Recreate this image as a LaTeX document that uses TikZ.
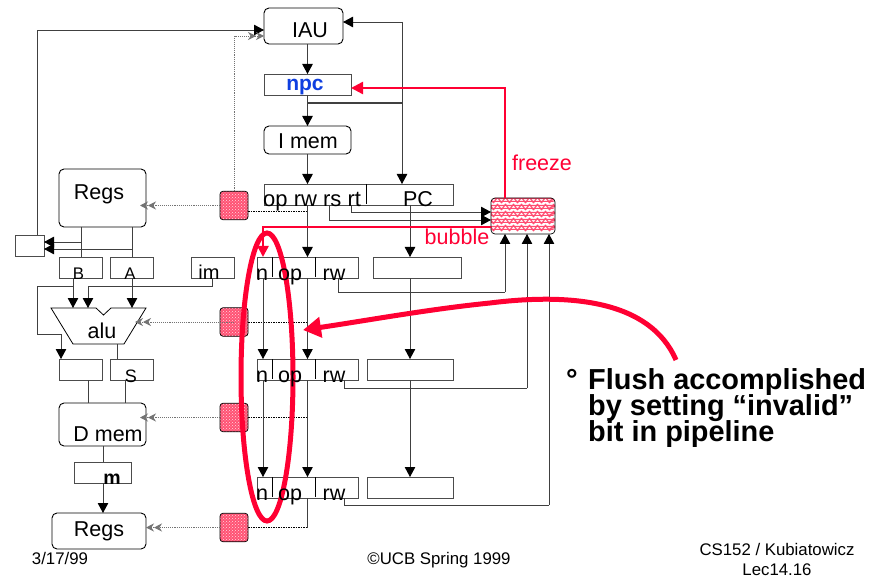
\documentclass[tikz,border=0pt]{standalone}
\usepackage{fontspec}
\setmainfont{Liberation Sans}
\usetikzlibrary{arrows.meta,patterns,decorations.pathmorphing}
\definecolor{flushred}{HTML}{FF0033}
\definecolor{npcblue}{HTML}{0F3FE0}
\tikzset{
    box/.style={draw=black!70,line width=0.9pt,fill=white,anchor=north west,inner sep=0pt,outer sep=0pt},
    rbox/.style={box,draw=black,rounded corners=5pt},
    stall/.style={draw=black,line width=0.7pt,rounded corners=3pt,minimum width=28pt,minimum height=28.5pt,inner sep=0pt,outer sep=0pt,
        preaction={fill=flushred!68},pattern=crosshatch dots,pattern color=white!85!flushred},
    wire/.style={black!75,line width=0.9pt},
    ar/.style={wire,-{Triangle[length=10pt,width=10.5pt,color=black]}},
    gar/.style={black!55,line width=0.9pt,densely dotted,-{Stealth[length=8pt,width=8pt]Stealth[length=8pt,width=8pt]}},
    dot/.style={black,line width=1pt,dash pattern=on 1.5pt off 1pt},
    lab/.style={font=\fontsize{21.5}{21.5}\selectfont,inner sep=0pt},
    small/.style={font=\fontsize{16.8}{16.8}\selectfont,inner sep=0pt},
    notel/.style={anchor=base west,inner sep=0pt,font=\fontsize{28.9}{26}\selectfont\bfseries},
    redwire/.style={flushred,line width=2.4pt},
}
\begin{document}
\begin{tikzpicture}[x=1pt,y=-1pt]
    \useasboundingbox (0,0) rectangle (888,577);

    % wires of the left side and the bus, drawn first so boxes sit over them
    \coordinate (top) at (402,22);
    \coordinate (busA) at (307.5,103);
    \coordinate (busB) at (402,103);

    % fetch
    \node[rbox,minimum width=79pt,minimum height=36pt] (iau) at (264,8) {};
    \node[box,minimum width=87pt,minimum height=21pt] (npc) at (264,74) {};
    \node[rbox,minimum width=87pt,minimum height=28pt] (imem) at (264,126) {};
    \node[box,minimum width=189pt,minimum height=21pt] (ir) at (264,184) {};
    \node[rbox,minimum width=87pt,minimum height=58pt] (regs) at (59,169) {};
    \node[box,minimum width=29pt,minimum height=21pt] (sel) at (15,235) {};
    \node[box,minimum width=43pt,minimum height=21pt] (b) at (59,257) {};
    \node[box,minimum width=43pt,minimum height=21pt] (a) at (110,257) {};
    \node[box,minimum width=43pt,minimum height=21pt] (im) at (191,257) {};
    \node[box,minimum width=43pt,minimum height=21pt] (res) at (59,359) {};
    \node[box,minimum width=43pt,minimum height=21pt] (s) at (110,359) {};
    \node[rbox,minimum width=87pt,minimum height=43pt] (dmem) at (59,403) {};
    \node[box,minimum width=57pt,minimum height=21pt] (m) at (74,462) {};
    \node[rbox,minimum width=94pt,minimum height=36pt] (regsb) at (52,513) {};

    % pipeline rows
    \foreach \rowname/\rowy/\pcx/\pcw in {one/257/373/88,two/359/367/86,three/477/367/86}{
        \node[box,minimum width=101pt,minimum height=21pt] (\rowname) at (257,\rowy) {};
        \node[box,minimum width=\pcw pt,minimum height=21pt] (pc\rowname) at (\pcx,\rowy) {};
        \draw[black,line width=1pt] (\rowname.north west) ++(15,0) coordinate (d1\rowname) -- ++(0,20);
        \draw[black,line width=1pt] (\rowname.north west) ++(58,0) coordinate (d2\rowname) -- ++(0,20);
    }
    \draw[black,line width=1pt] (366,184) -- (366,204);

    % stall controls
    \foreach \st/\sty in {sA/205.5,sB/322,sC/417.5,sD/527.5}
        \node[stall] (\st) at (234,\sty) {};

    % control box
    \node[draw=black,line width=0.7pt,rounded corners=4pt,minimum width=64pt,minimum height=36pt,anchor=north west,inner sep=0pt,outer sep=0pt,fill=white,
        path picture={
            \foreach \wavey in {-16,-9,...,18}
                \draw[flushred!70,line width=1pt,decorate,decoration={snake,segment length=8pt,amplitude=1.5pt}] (-36,\wavey) -- (36,\wavey);
        }] (ctl) at (491,198) {};

    % alu
    \draw[black,line width=0.8pt,fill=white] (51,308) coordinate (alutl) -- (96,308) -- (103.5,315) -- (111,308) -- (146,308) coordinate (alutr)
        -- (124,344) coordinate (alubr) -- (73,344) coordinate (alubl) -- cycle;
    \coordinate (aluin) at (135,322);
    \coordinate (aluA) at (73,308);
    \coordinate (aluB) at (88,308);
    \coordinate (aluC) at (132,308);
    \coordinate (jb) at (73,286);
    \coordinate (ji) at (88,286);

    % fetch wires
    \draw[ar] (iau.south -| npc.south) -- (npc.north);
    \draw[ar] (npc.south) -- (imem.north);
    \draw[ar] (imem.south) -- (ir.north -| imem.south);
    \draw[wire,line width=1.2pt] (busA) -- (busB);
    \draw[ar] (top) -- (iau.north east |- top);
    \draw[ar] (top) -- (ir.north -| top);

    % register file wires
    \draw[ar] (sel.north -| 37,0) -- (37,30) -- (iau.west |- 37,30);
    \draw[wire] (regs.south -| 81,0) -- (b.north -| 81,0);
    \draw[wire] (regs.south -| 132,0) -- (a.north -| 132,0);
    \draw[ar] (81,242) -- (sel.east |- 81,242);
    \draw[ar] (132,249) -- (sel.east |- 132,249);
    \draw[wire] (jb |- b.south) -- (jb);
    \draw[ar] (jb) -- (aluA);
    \draw[wire] (jb) -- (37,286) -- (37,334) -- (61,334) coordinate (fb);
    \draw[ar] (fb) -- (res.north -| fb);
    \draw[wire] (212,278) -- (212,286) -- (ji);
    \draw[ar] (ji) -- (aluB);
    \draw[ar] (a.south -| aluC) -- (aluC);
    \draw[wire] (alubr -| 117,0) -- (s.north -| 117,0);
    \draw[wire] (res.south -| 88,0) -- (dmem.north -| 88,0);
    \draw[wire] (s.south -| 125,0) -- (dmem.north -| 125,0);
    \draw[wire] (dmem.south -| 103,0) -- (m.north -| 103,0);
    \draw[ar] (m.south -| 103,0) -- (regsb.north -| 103,0);

    % stall wires
    \draw[gar] (sA.north) -- (234,36) -- (iau.west |- 234,36);
    \draw[gar] (sA.west) -- (140,205.5);
    \draw[gar] (sB.center) -- (aluin);
    \draw[gar] (sC.west) -- (140,417.5);
    \draw[gar] (sD.west) -- (regsb.east |- sD.west);
    \draw[dot] (248,212) -- (306,212);
    \foreach \st/\sty in {sB/322,sC/417.5,sD/527.5}
        \draw[dot] (\st.east |- 248,\sty) -- (306,\sty);

    % pipeline wires
    \draw[ar] (307.5,205) -- (307.5,257);
    \draw[ar] (410,205) -- (410,257);
    \draw[ar] (263,278) -- (263,359);
    \draw[ar] (263,380) -- (263,477);
    \draw[ar] (307.5,278) -- (307.5,359);
    \draw[ar] (307.5,380) -- (307.5,477);
    \draw[wire] (307.5,498) -- (307.5,528);
    \draw[ar] (410,278) -- (410,359);
    \draw[ar] (410,380) -- (410,477);
    \draw[ar] (351,205) -- (351,212) -- (ctl.west |- 351,212);
    \draw[ar] (329,205) -- (329,220) -- (ctl.west |- 329,220);
    \draw[wire] (338,278) -- (338,292) -- (505,292) coordinate (upA);
    \draw[ar] (upA) -- (ctl.south -| upA);
    \draw[wire] (344,380) -- (344,388) -- (527,388) coordinate (upB);
    \draw[ar] (upB) -- (ctl.south -| upB);
    \draw[wire] (344,498) -- (344,505) -- (549,505) coordinate (upC);
    \draw[ar] (upC) -- (ctl.south -| upC);

    % freeze and bubble
    \draw[redwire,-{Triangle[length=12pt,width=12pt]}] (ctl.north -| 505,0) -- (505,88) -- (npc.east |- 505,88);
    \draw[redwire,-{Triangle[length=11pt,width=11pt]}] (ctl.west |- 491,227) -- (263,227) -- (263,257);

    % flush marker
    \draw[flushred,line width=5pt] (267,377) ellipse (26 and 144);
    \draw[flushred,line width=5pt,-{Triangle[length=18pt,width=20pt]}] (676,360) .. controls (650,300) and (570,293) .. (490,303) .. controls (430,309) and (370,320) .. (303,330);

    % labels
    \node[lab,anchor=base] (iaul) at (310,38) {IAU};
    \node[lab,text=npcblue,font=\fontsize{21}{21}\selectfont\bfseries,anchor=base] (npcl) at (305,91) {npc};
    \node[lab,anchor=base] (imeml) at (308,149) {I mem};
    \node[lab,font=\fontsize{22}{22}\selectfont,anchor=base west] (opl) at (263,207) {op rw rs rt};
    \node[lab,anchor=base] (pcl) at (418,207) {PC};
    \node[lab,anchor=base] (regsl) at (99,200) {Regs};
    \node[small,anchor=base] (bl) at (78.5,279) {B};
    \node[small,anchor=base] (al) at (130,279) {A};
    \node[lab,font=\fontsize{20}{20}\selectfont,anchor=base] (iml) at (209,279.5) {im};
    \node[lab,anchor=base] (alul) at (102,338) {alu};
    \node[lab,font=\fontsize{18}{18}\selectfont,anchor=base] (sl) at (131,382) {S};
    \node[lab,anchor=base] (dmeml) at (108,441) {D mem};
    \node[lab,font=\fontsize{19.5}{19.5}\selectfont\bfseries,anchor=base] (ml) at (112,484) {m};
    \node[lab,anchor=base] (regsbl) at (99,536) {Regs};
    \foreach \rowname/\rowb in {one/280,two/382,three/500}{
        \node[lab,anchor=base] (n\rowname) at (262,\rowb) {n};
        \node[lab,anchor=base] (op\rowname) at (290,\rowb) {op};
        \node[lab,anchor=base] (rw\rowname) at (334,\rowb) {rw};
    }
    \node[lab,text=flushred,anchor=base] (freezel) at (542,171) {freeze};
    \node[lab,text=flushred,anchor=base] (bubblel) at (457,244) {bubble};
    \node[lab,font=\fontsize{29}{29}\selectfont\bfseries,anchor=base] (deg) at (572,389) {°};
    \node[notel] (noteA) at (588,389) {Flush accomplished};
    \node[notel] (noteB) at (588,415) {by setting “invalid”};
    \node[notel] (noteC) at (588,441) {bit in pipeline};
    \node[small,anchor=base] (date) at (60,564) {3/17/99};
    \node[small,anchor=base] (ucb) at (439,564) {©UCB Spring 1999};
    \node[small,anchor=base] (cs) at (777,555) {CS152 / Kubiatowicz};
    \node[small,anchor=base] (lec) at (777,575) {Lec14.16};
\end{tikzpicture}
\end{document}
